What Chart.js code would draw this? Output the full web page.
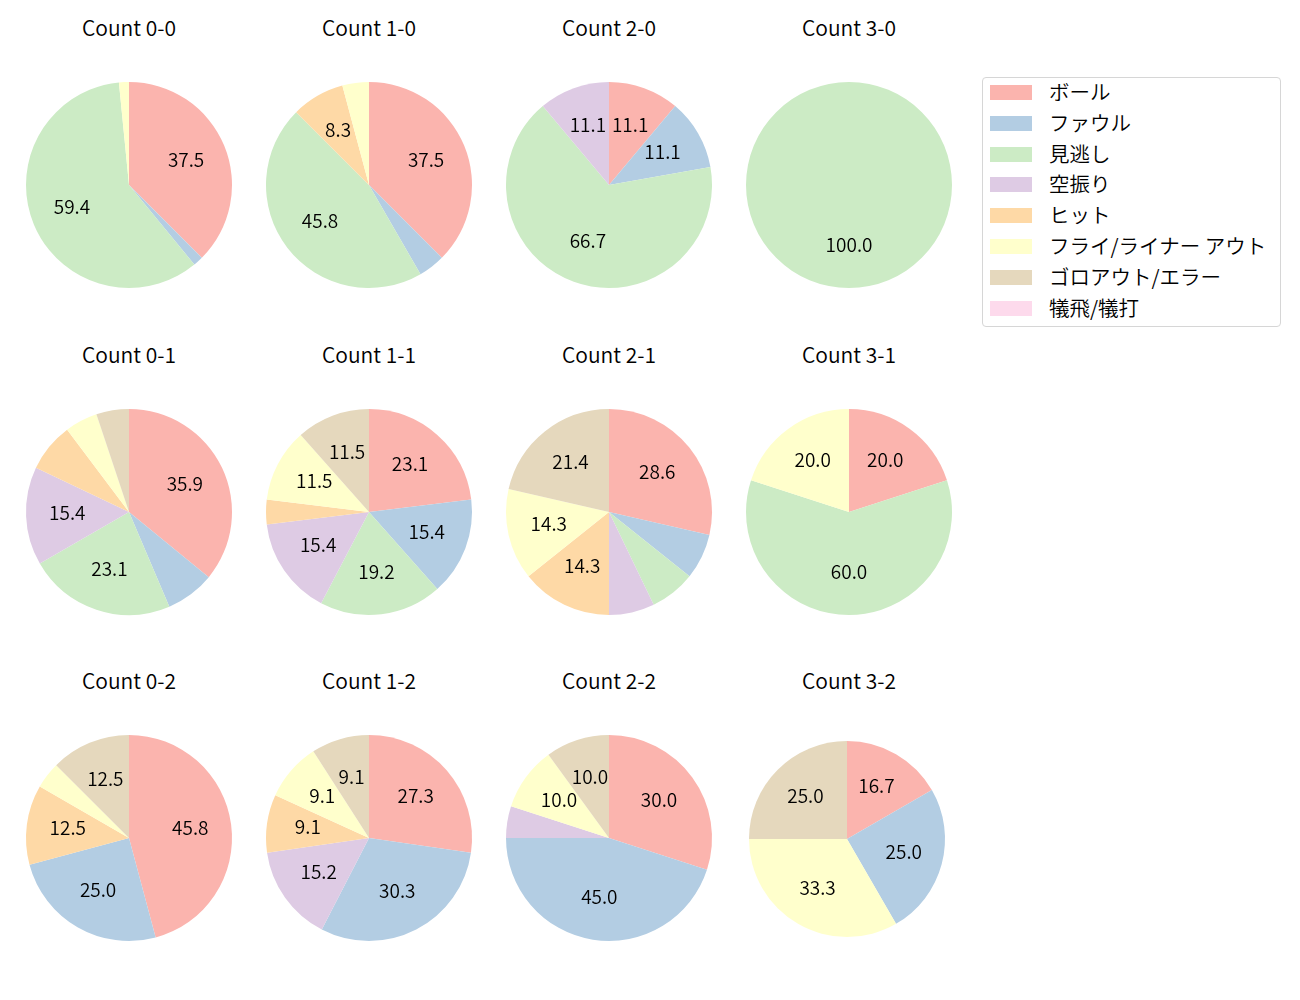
<!DOCTYPE html>
<html>
<head>
<meta charset="utf-8">
<script src="https://cdn.jsdelivr.net/npm/chart.js@4"></script>
<style>
  body { margin: 0; background: #fff; font-family: "Noto Sans CJK JP", "Noto Sans", sans-serif; font-weight: 350; }
  #wrap { position: relative; width: 1300px; height: 1000px; }
  .pie { position: absolute; }
  .ttl { position: absolute; width: 200px; text-align: center; font-size: 21px; line-height: 20px; color: #000; }
  #legend { position: absolute; left: 982px; top: 77px; width: 297px; height: 248px;
            border: 1px solid #d6d6d6; border-radius: 4px; box-sizing: content-box; }
  .lg { position: absolute; left: 0; height: 20px; font-size: 20.5px; line-height: 20px; color: #000; white-space: nowrap; }
  .lg span { position: absolute; left: 7px; top: 4px; width: 42px; height: 15px; }
  .lg b { position: absolute; left: 66px; top: 0; font-weight: 350; }
</style>
</head>
<body>
<div id="wrap"></div>
<script>
// カテゴリと色
const categories = ['ボール', 'ファウル', '見逃し', '空振り', 'ヒット', 'フライ/ライナー アウト', 'ゴロアウト/エラー', '犠飛/犠打'];
const colors = ['#fbb4ae', '#b3cde3', '#ccebc5', '#decbe4', '#fed9a6', '#ffffcc', '#e5d8bd', '#fddaec'];

// 各カウントの件数 (categories と同じ順)
const titles = ['Count 0-0', 'Count 1-0', 'Count 2-0', 'Count 3-0',
                'Count 0-1', 'Count 1-1', 'Count 2-1', 'Count 3-1',
                'Count 0-2', 'Count 1-2', 'Count 2-2', 'Count 3-2'];
const count00 = [24, 1, 38, 0, 0, 1, 0, 0];
const count10 = [9, 1, 11, 0, 2, 1, 0, 0];
const count20 = [1, 1, 6, 1, 0, 0, 0, 0];
const count30 = [0, 0, 1, 0, 0, 0, 0, 0];
const count01 = [14, 3, 9, 6, 3, 2, 2, 0];
const count11 = [6, 4, 5, 4, 1, 3, 3, 0];
const count21 = [4, 1, 1, 1, 2, 2, 3, 0];
const count31 = [1, 0, 3, 0, 0, 1, 0, 0];
const count02 = [11, 6, 0, 0, 3, 1, 3, 0];
const count12 = [9, 10, 0, 5, 3, 3, 3, 0];
const count22 = [6, 9, 0, 1, 0, 2, 2, 0];
const count32 = [2, 3, 0, 0, 0, 4, 3, 0];
const allCounts = [count00, count10, count20, count30,
                   count01, count11, count21, count31,
                   count02, count12, count22, count32];

// 配置 (中心x, 中心y)
const colX = [129, 369, 609, 849];
const rowY = [185, 512, 838];
const titleY = [29, 356, 682];

// 割合ラベル (matplotlib の autopct 風)
const pctLabels = {
    id: 'pctLabels',
    afterDatasetsDraw(chart) {
        const ctx = chart.ctx;
        const vals = chart.data.datasets[0].data;
        const total = vals.reduce((a, b) => a + b, 0);
        chart.getDatasetMeta(0).data.forEach((arc, i) => {
            const pct = vals[i] / total * 100;
            if (pct < 8) return;
            const p = arc.getProps(['x', 'y', 'startAngle', 'endAngle', 'outerRadius'], true);
            const mid = (p.startAngle + p.endAngle) / 2;
            ctx.save();
            ctx.font = '350 19px "Noto Sans CJK JP", "Noto Sans", sans-serif';
            ctx.fillStyle = '#000';
            ctx.textAlign = 'center';
            ctx.textBaseline = 'middle';
            ctx.fillText(pct.toFixed(1), p.x + Math.cos(mid) * p.outerRadius * 0.6, p.y + Math.sin(mid) * p.outerRadius * 0.6 - 2);
            ctx.restore();
        });
    }
};

const wrap = document.getElementById('wrap');

allCounts.forEach((vals, k) => {
    const col = k % 4, row = Math.floor(k / 4);
    let cx = colX[col], cy = rowY[row], r = 103;
    if (k === 11) { cx = 846.5; cy = 839; r = 98; }

    const t = document.createElement('div');
    t.className = 'ttl';
    t.textContent = titles[k];
    t.style.left = (colX[col] - 100) + 'px';
    t.style.top = (titleY[row] - 12) + 'px';
    wrap.appendChild(t);

    const c = document.createElement('canvas');
    c.className = 'pie';
    c.width = 240; c.height = 240;
    c.style.left = (cx - 120) + 'px';
    c.style.top = (cy - 120) + 'px';
    wrap.appendChild(c);

    new Chart(c.getContext('2d'), {
        type: 'pie',
        data: {
            labels: categories,
            datasets: [{
                data: vals,
                backgroundColor: colors,
                borderWidth: 0,
                radius: r
            }]
        },
        options: {
            responsive: false,
            maintainAspectRatio: false,
            devicePixelRatio: 1,
            animation: false,
            layout: { padding: 0 },
            plugins: {
                legend: { display: false },
                tooltip: { enabled: false }
            }
        },
        plugins: [pctLabels]
    });
});

// 凡例
const legend = document.createElement('div');
legend.id = 'legend';
categories.forEach((name, i) => {
    const row = document.createElement('div');
    row.className = 'lg';
    row.style.top = (3 + i * 30.8) + 'px';
    row.innerHTML = '<span style="background:' + colors[i] + '"></span><b>' + name + '</b>';
    legend.appendChild(row);
});
wrap.appendChild(legend);
</script>
</body>
</html>
